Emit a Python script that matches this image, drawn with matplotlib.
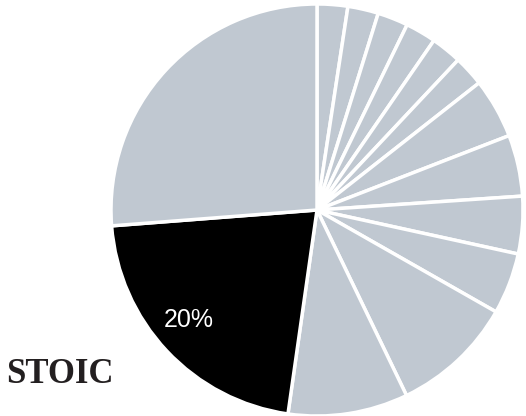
import matplotlib
matplotlib.use("Agg")
import matplotlib.pyplot as plt
from matplotlib.transforms import offset_copy

# Slice shares (percent), clockwise from 12 o'clock
values = [2.4, 2.4, 2.4, 2.4, 2.4, 2.4, 4.7, 4.8, 4.5, 4.8, 9.6, 9.4, 21.5, 26.2]
highlight_index = 12
slice_labels = [""] * 12 + ["20%", ""]
title_text = "STOIC"

gray = "#c0c8d1"
colors = [gray] * len(values)
colors[highlight_index] = "#000000"

fig = plt.figure(figsize=(5.26, 4.16), dpi=100)
ax = fig.add_axes([111 / 526, 0.0, 412 / 526, 412 / 416])
wedges, texts = ax.pie(
    values,
    colors=colors,
    startangle=90,
    counterclock=False,
    radius=1.0,
    labels=slice_labels,
    labeldistance=0.82,
    wedgeprops=dict(edgecolor="white", linewidth=2.5),
    textprops=dict(color="white", fontsize=18, family="Liberation Sans"),
)
for t in texts:
    t.set_ha("center")
    t.set_va("center")
    t.set_transform(offset_copy(ax.transData, fig=fig, x=-5, y=6, units="dots"))
ax.set_xlim(-1.0, 1.0)
ax.set_ylim(-1.0, 1.0)
ax.set_aspect("equal")
ax.axis("off")

fig.text(6 / 526, 33 / 416, title_text, family="Liberation Serif", fontweight="bold",
         fontsize=25, color="#231f20", ha="left", va="baseline")

fig.savefig("out.png", dpi=100)
